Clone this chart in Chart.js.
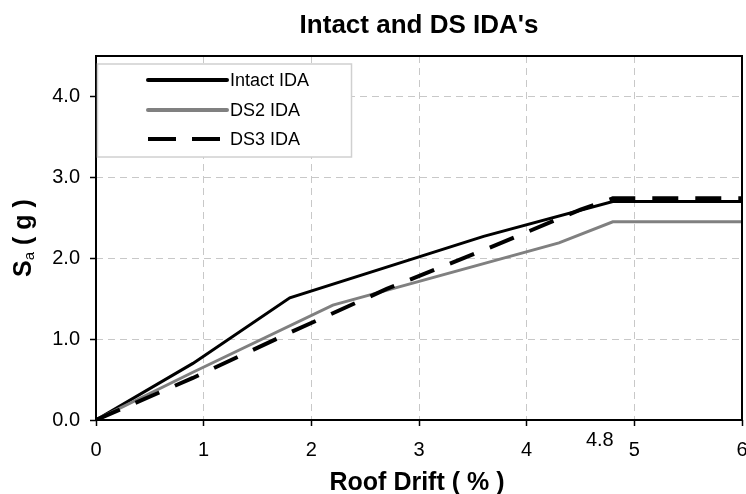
<!DOCTYPE html>
<html>
<head>
<meta charset="utf-8">
<script src="https://cdn.jsdelivr.net/npm/chart.js@4/dist/chart.umd.min.js"></script>
<style>
    html, body { margin: 0; padding: 0; background: #fff; overflow: hidden; }
    #wrap { width: 760px; height: 494px; }
</style>
</head>
<body>
<div id="wrap"><canvas id="idaCanvas" width="760" height="494"></canvas></div>
<script>
// values
var seriesNames = ['Intact IDA', 'DS2 IDA', 'DS3 IDA'];

var intactDrift = [0, 0.9, 1.8, 3.6, 4.8, 6];
var intactSa = [0, 0.7, 1.51, 2.27, 2.7, 2.7];

var ds2Drift = [0, 0.9, 2.2, 4.3, 4.8, 6];
var ds2Sa = [0, 0.59, 1.42, 2.19, 2.45, 2.45];

var ds3Drift = [0, 0.9, 1.8, 2.7, 3.6, 4.5, 4.8, 6];
var ds3Sa = [0, 0.52, 1.08, 1.62, 2.1, 2.6, 2.74, 2.74];

var xTicks = [0, 1, 2, 3, 4, 5, 6];
var yTicks = [0, 1, 2, 3, 4];
var markedDrift = 4.8;

var FONT = "'Liberation Sans', Arial, sans-serif";

function toPoints(xs, ys) {
    var pts = [];
    for (var i = 0; i < xs.length; i++) pts.push({ x: xs[i], y: ys[i] });
    return pts;
}

var lineStyles = [
    { color: '#000000', width: 3, dash: [] },
    { color: '#808080', width: 3, dash: [] },
    { color: '#000000', width: 4, dash: [26, 17] }
];

// titles, frame, legend and the 4.8 marker label
var decor = {
    id: 'decor',
    beforeDraw: function(chart) {
        var ctx = chart.ctx;
        ctx.save();
        ctx.fillStyle = '#fff';
        ctx.fillRect(0, 0, chart.width, chart.height);
        ctx.restore();
    },
    afterDatasetsDraw: function(chart) {
        var ctx = chart.ctx;
        var a = chart.chartArea;
        var x = chart.scales.x;
        var cx = (a.left + a.right) / 2;

        ctx.save();
        // plot frame
        ctx.strokeStyle = '#000';
        ctx.lineWidth = 2;
        ctx.strokeRect(a.left, a.top, a.right - a.left, a.bottom - a.top);

        // legend box
        var bx = a.left + 1.5, by = 64, bw = 254, bh = 93;
        ctx.fillStyle = '#fff';
        ctx.fillRect(bx, by, bw, bh);
        ctx.strokeStyle = '#d0d0d0';
        ctx.lineWidth = 1.5;
        ctx.strokeRect(bx, by, bw, bh);

        var rows = [80, 110, 139];
        for (var i = 0; i < seriesNames.length; i++) {
            var st = lineStyles[i];
            ctx.beginPath();
            ctx.setLineDash(i == 2 ? [28, 16] : []);
            ctx.strokeStyle = st.color;
            ctx.lineWidth = 4;
            ctx.lineCap = i == 2 ? 'butt' : 'round';
            ctx.moveTo(148, rows[i]);
            ctx.lineTo(i == 2 ? 220 : 227, rows[i]);
            ctx.stroke();
            ctx.setLineDash([]);
            ctx.fillStyle = '#000';
            ctx.font = '18px ' + FONT;
            ctx.textAlign = 'left';
            ctx.textBaseline = 'middle';
            ctx.fillText(seriesNames[i], 230, rows[i] + 1);
        }

        // main title
        ctx.fillStyle = '#000';
        ctx.textAlign = 'center';
        ctx.textBaseline = 'alphabetic';
        ctx.font = 'bold 26px ' + FONT;
        ctx.fillText("Intact and DS IDA's", cx, 33);

        // x axis title
        ctx.font = 'bold 25px ' + FONT;
        ctx.fillText('Roof Drift ( % )', cx - 2, 490);

        // extra 4.8 label
        ctx.font = '20px ' + FONT;
        ctx.fillText(String(markedDrift), x.getPixelForValue(markedDrift) - 13, 446);

        // y axis title with subscript
        var cy = (a.top + a.bottom) / 2;
        ctx.translate(31, cy);
        ctx.rotate(-Math.PI / 2);
        var big = 'bold 25px ' + FONT, small = '15px ' + FONT;
        ctx.font = big;
        var wS = ctx.measureText('S').width;
        var wRest = ctx.measureText(' ( g )').width;
        ctx.font = small;
        var wa = ctx.measureText('a').width;
        var start = -(wS + wa + wRest) / 2;
        ctx.textAlign = 'left';
        ctx.font = big;
        ctx.fillText('S', start, 0);
        ctx.font = small;
        ctx.fillText('a', start + wS, 3);
        ctx.font = big;
        ctx.fillText(' ( g )', start + wS + wa, 0);
        ctx.restore();
    }
};

var datasets = [
    { label: seriesNames[0], data: toPoints(intactDrift, intactSa), order: 3 },
    { label: seriesNames[1], data: toPoints(ds2Drift, ds2Sa), order: 2 },
    { label: seriesNames[2], data: toPoints(ds3Drift, ds3Sa), order: 1 }
];
for (var i = 0; i < datasets.length; i++) {
    var d = datasets[i];
    d.showLine = true;
    d.borderColor = lineStyles[i].color;
    d.backgroundColor = lineStyles[i].color;
    d.borderWidth = lineStyles[i].width;
    d.borderDash = lineStyles[i].dash;
    d.borderCapStyle = 'butt';
    d.borderJoinStyle = 'miter';
    d.pointRadius = 0;
    d.tension = 0;
    d.fill = false;
}

// v4 keeps the grid dash under border.dash
var gridOpts = {
    color: '#c8c8c8',
    lineWidth: 1,
    drawTicks: true,
    tickLength: 6,
    tickColor: '#000',
    tickWidth: 1.5,
    tickBorderDash: []
};
var borderOpts = { display: false, dash: [7, 5] };

var myChart = new Chart(document.getElementById('idaCanvas'), {
    type: 'scatter',
    data: { datasets: datasets },
    options: {
        responsive: false,
        animation: false,
        layout: { padding: { left: 50, right: 18, top: 56, bottom: 0 } },
        plugins: {
            legend: { display: false },
            title: { display: false },
            tooltip: { enabled: false }
        },
        scales: {
            x: {
                type: 'linear',
                min: xTicks[0],
                max: xTicks[xTicks.length - 1],
                border: borderOpts,
                grid: gridOpts,
                afterFit: function(s) { s.height = 74; },
                afterBuildTicks: function(s) { s.ticks = xTicks.map(function(v) { return { value: v }; }); },
                ticks: {
                    color: '#000',
                    font: { family: FONT, size: 20 },
                    padding: 12,
                    maxRotation: 0,
                    autoSkip: false,
                    callback: function(v) { return String(v); }
                }
            },
            y: {
                type: 'linear',
                min: 0,
                max: 4.5,
                border: borderOpts,
                grid: gridOpts,
                afterFit: function(s) { s.width = 46; },
                afterBuildTicks: function(s) { s.ticks = yTicks.map(function(v) { return { value: v }; }); },
                ticks: {
                    color: '#000',
                    font: { family: FONT, size: 20 },
                    padding: 10,
                    callback: function(v) { return Number(v).toFixed(1); }
                }
            }
        }
    },
    plugins: [decor]
});
</script>
</body>
</html>
